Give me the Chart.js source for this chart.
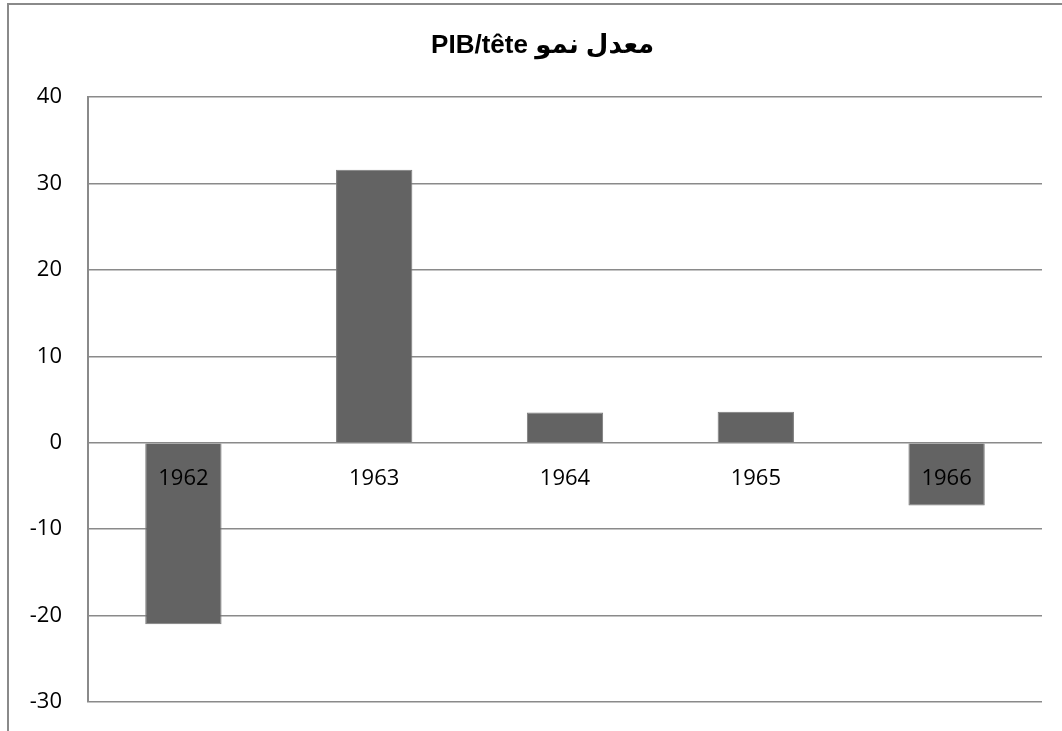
<!DOCTYPE html>
<html>
<head>
<meta charset="utf-8">
<script src="https://cdn.jsdelivr.net/npm/chart.js@4"></script>
<style>
    body { margin: 0; background: #fff; }
    #wrap { position: relative; width: 1062px; height: 731px; }
    #frame { position: absolute; left: 7px; top: 3px; width: 1080px; height: 800px;
             border: 2px solid #8a8a8a; pointer-events: none; }
</style>
</head>
<body>
<div id="wrap">
    <canvas id="myChart" width="1062" height="731"></canvas>
    <div id="frame"></div>
</div>
<script>
const years = ['1962', '1963', '1964', '1965', '1966'];
const growth = [-21.0, 31.6, 3.5, 3.6, -7.25];
// right-to-left embedding so the Arabic words stay on the right
const chartTitle = '\u202Bمعدل نمو PIB/tête\u00A0\u00A0\u00A0\u00A0\u00A0\u00A0\u202C';

const FONT = "'Open Sans', 'Liberation Sans', sans-serif";

var ctx = document.getElementById('myChart').getContext('2d');
var myChart = new Chart(ctx, {
    type: 'bar',
    data: {
        labels: years,
        datasets: [{
            data: growth,
            backgroundColor: '#636363',
            borderColor: '#7a7a7a',
            borderWidth: 1,
            categoryPercentage: 1,
            barPercentage: 0.4
        }]
    },
    options: {
        responsive: false,
        animation: false,
        layout: {
            padding: {left: 0, right: 20, top: 0, bottom: 29}
        },
        scales: {
            x: {
                position: {y: 0},
                afterFit: function (scale) {
                    scale.height = 0;
                },
                grid: {display: false, drawTicks: false},
                border: {display: false},
                ticks: {
                    z: 1,
                    color: '#000',
                    padding: 23,
                    maxRotation: 0,
                    autoSkip: false,
                    font: {family: FONT, size: 22}
                }
            },
            y: {
                min: -30,
                max: 40,
                afterFit: function (scale) {
                    scale.width = 88;
                    scale.paddingBottom = 0;
                },
                grid: {
                    color: '#8a8a8a',
                    lineWidth: 1.5,
                    drawTicks: false
                },
                border: {display: true, color: '#8a8a8a', width: 2},
                ticks: {
                    stepSize: 10,
                    color: '#000',
                    padding: 26,
                    font: {family: FONT, size: 22}
                }
            }
        },
        plugins: {
            legend: {display: false},
            tooltip: {enabled: false},
            title: {
                display: true,
                text: chartTitle,
                color: '#000',
                font: {family: "'Liberation Sans', 'DejaVu Sans', sans-serif", size: 26, weight: 'bold'},
                padding: {top: 30, bottom: 36}
            }
        }
    }
});
</script>
</body>
</html>
